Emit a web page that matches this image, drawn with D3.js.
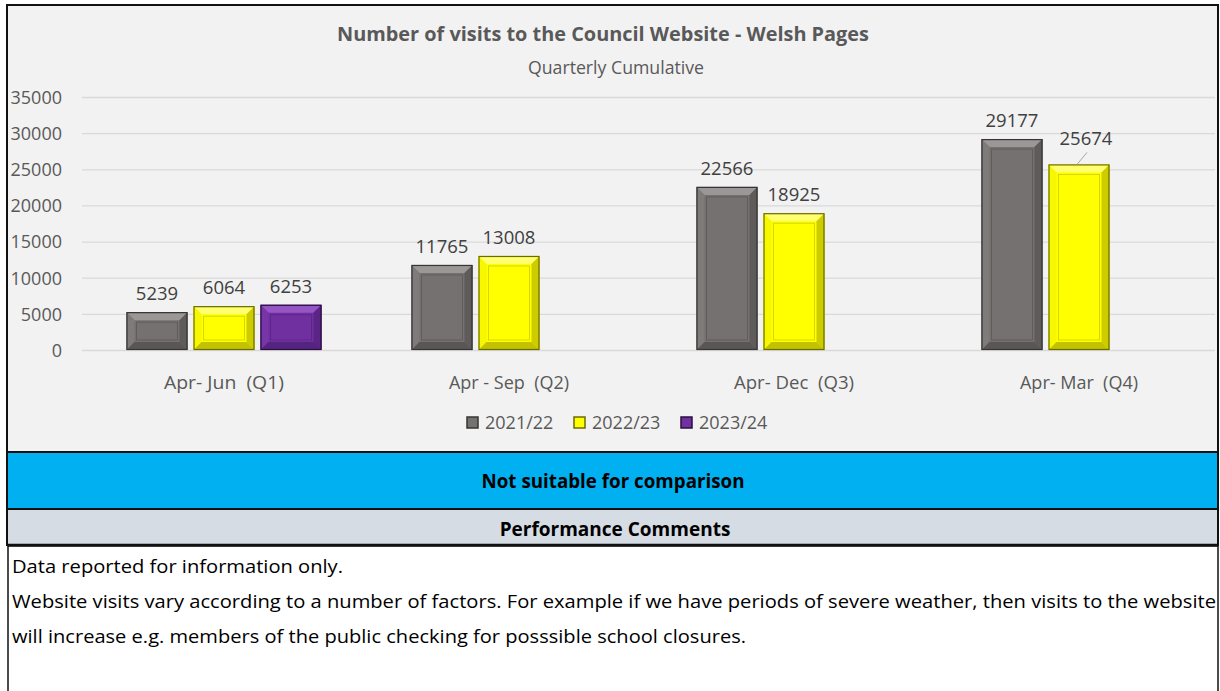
<!DOCTYPE html>
<html><head><meta charset="utf-8">
<script src="https://cdn.jsdelivr.net/npm/d3@7"></script>
<style>body{margin:0;background:#fff;}svg{display:block;font-family:"Open Sans",sans-serif;}</style>
</head><body>
<script>
const categories = ["Apr- Jun  (Q1)", "Apr - Sep  (Q2)", "Apr- Dec  (Q3)", "Apr- Mar  (Q4)"];
const seriesNames = ["2021/22", "2022/23", "2023/24"];
const values2122 = [5239, 11765, 22566, 29177];
const values2223 = [6064, 13008, 18925, 25674];
const values2324 = [6253, null, null, null];
const yTicks = [0, 5000, 10000, 15000, 20000, 25000, 30000, 35000];
const titleText = "Number of visits to the Council Website - Welsh Pages";
const subtitleText = "Quarterly Cumulative";
const bannerText = "Not suitable for comparison";
const commentsHeader = "Performance Comments";
const commentLines = [
  "Data reported for information only.",
  "Website visits vary according to a number of factors. For example if we have periods of severe weather, then visits to the website",
  "will increase e.g. members of the public checking for posssible school closures."
];

const W = 1220, H = 691;
const svg = d3.select("body").append("svg").attr("width", W).attr("height", H);

const colors = {
  "2021/22": {base:"#767171", top:"#9b9797", left:"#7f7b7b", right:"#5f5b5b", bottom:"#5a5656", edge:"#363434", inner:"#615d5d"},
  "2022/23": {base:"#ffff00", top:"#ffff70", left:"#f7f700", right:"#cccc00", bottom:"#c2c200", edge:"#6b6b00", inner:"#d6d600"},
  "2023/24": {base:"#7030a0", top:"#9556c4", left:"#7735a8", right:"#5a2584", bottom:"#552380", edge:"#2a0f40", inner:"#5c2688"}
};

function fit(sel, w) {
  sel.each(function(){
    const l = this.getComputedTextLength();
    if (Math.abs(l - w) > 2) d3.select(this).attr("textLength", w).attr("lengthAdjust", "spacingAndGlyphs");
  });
}

// panels
svg.append("rect").attr("x",7).attr("y",5).attr("width",1211).attr("height",447).attr("fill","#f2f2f2").attr("stroke","#111").attr("stroke-width",2);
svg.append("rect").attr("x",7).attr("y",452).attr("width",1211).attr("height",57).attr("fill","#00b0f0").attr("stroke","#111").attr("stroke-width",2);
svg.append("rect").attr("x",7).attr("y",509).attr("width",1211).attr("height",36).attr("fill","#d6dce4").attr("stroke","#111").attr("stroke-width",2);
svg.append("rect").attr("x",8).attr("y",546).attr("width",1210).attr("height",150).attr("fill","#fff").attr("stroke","#111").attr("stroke-width",1.5);
svg.append("line").attr("x1",7).attr("x2",1218).attr("y1",545).attr("y2",545).attr("stroke","#111").attr("stroke-width",2.5);

// titles
svg.append("text").attr("x",603).attr("y",41).attr("text-anchor","middle").attr("font-weight","bold").attr("font-size",19).attr("fill","#595959").text(titleText).call(fit,532);
svg.append("text").attr("x",616).attr("y",74).attr("text-anchor","middle").attr("font-size",18).attr("fill","#595959").text(subtitleText).call(fit,176);

// scales
const y = d3.scaleLinear().domain([0,35000]).range([350,97]);
const x0 = d3.scaleBand().domain(categories).range([81.5,1221.5]).padding(0);
const x1 = d3.scaleBand().domain(seriesNames).range([45,240]).paddingInner(0.09);

// y axis + gridlines
const yAxis = d3.axisLeft(y).tickValues(yTicks).tickSize(0).tickPadding(0).tickFormat(d3.format("d"));
const gy = svg.append("g").attr("transform","translate(62,0)").call(yAxis);
gy.select(".domain").remove();
gy.selectAll("text").attr("font-size",18).attr("fill","#595959").attr("font-family","Open Sans, sans-serif").attr("dy","0.35em");
svg.append("g").selectAll("line").data(yTicks).join("line")
  .attr("x1",82).attr("x2",1215).attr("y1",d=>y(d)+0.5).attr("y2",d=>y(d)+0.5)
  .attr("stroke","#d9d9d9").attr("stroke-width",1.3);

// x axis labels
const xAxis = d3.axisBottom(x0).tickSize(0).tickPadding(0);
const gx = svg.append("g").attr("transform","translate(0,375)").call(xAxis);
gx.select(".domain").remove();
gx.selectAll("text").attr("font-size",18).attr("fill","#595959").attr("font-family","Open Sans, sans-serif").attr("dy","0.75em").attr("xml:space","preserve").style("white-space","pre").call(fit,120);

// data rows
const rows = [];
categories.forEach((c,i)=>{
  [values2122, values2223, values2324].forEach((arr,j)=>{
    if (arr[i] != null) rows.push({cat:c, series:seriesNames[j], value:arr[i]});
  });
});

const bars = svg.append("g").selectAll("g").data(rows).join("g");
bars.each(function(d){
  const g = d3.select(this);
  const c = colors[d.series];
  const bx = x0(d.cat) + x1(d.series), bw = x1.bandwidth();
  const by = y(d.value), bh = y(0) - y(d.value);
  const b = Math.min(8, bh/4);
  g.append("rect").attr("x",bx).attr("y",by).attr("width",bw).attr("height",bh).attr("fill",c.base);
  const pts = (a)=>a.map(p=>p.join(",")).join(" ");
  g.append("polygon").attr("points",pts([[bx,by],[bx+bw,by],[bx+bw-b,by+b],[bx+b,by+b]])).attr("fill",c.top);
  g.append("polygon").attr("points",pts([[bx,by],[bx+b,by+b],[bx+b,by+bh-b],[bx,by+bh]])).attr("fill",c.left);
  g.append("polygon").attr("points",pts([[bx+bw,by],[bx+bw,by+bh],[bx+bw-b,by+bh-b],[bx+bw-b,by+b]])).attr("fill",c.right);
  g.append("polygon").attr("points",pts([[bx,by+bh],[bx+b,by+bh-b],[bx+bw-b,by+bh-b],[bx+bw,by+bh]])).attr("fill",c.bottom);
  g.append("line").attr("x1",bx+4).attr("x2",bx+bw-4).attr("y1",by+3).attr("y2",by+3).attr("stroke",c.top).attr("stroke-width",2).attr("opacity",0.9);
  g.append("rect").attr("x",bx+b+2).attr("y",by+b+2).attr("width",bw-2*b-4).attr("height",Math.max(0,bh-2*b-4)).attr("fill","none").attr("stroke",c.inner).attr("stroke-width",1);
  g.append("rect").attr("x",bx+0.5).attr("y",by+0.5).attr("width",bw-1).attr("height",bh-1).attr("fill","none").attr("stroke",c.edge).attr("stroke-width",1.2);
  // label
  const raised = (d.series==="2022/23" && d.cat===categories[3]);
  const ly = by - 12 - (raised ? 7 : 0);
  const lx = bx + bw/2 + (raised ? 7 : 0);
  if (raised) {
    g.append("line").attr("x1",bx+bw/2-2).attr("y1",by).attr("x2",bx+bw/2+8).attr("y2",by-12).attr("stroke","#a6a6a6").attr("stroke-width",1);
  }
  g.append("text").attr("x",lx).attr("y",ly).attr("text-anchor","middle").attr("font-size",18.5).attr("fill","#404040").text(d.value);
});

// legend
const legendX = [467, 574, 681];
const lg = svg.append("g").selectAll("g").data(seriesNames).join("g")
  .attr("transform",(d,i)=>`translate(${legendX[i]},417)`);
lg.append("rect").attr("width",11).attr("height",11).attr("fill",d=>colors[d].base).attr("stroke",d=>colors[d].edge).attr("stroke-width",1.5);
lg.append("text").attr("x",18).attr("y",12).attr("font-size",18).attr("fill","#595959").text(d=>d);

// banners
svg.append("text").attr("x",613).attr("y",488).attr("text-anchor","middle").attr("font-weight","bold").attr("font-size",19).attr("fill","#000").text(bannerText).call(fit,263);
svg.append("text").attr("x",615).attr("y",536).attr("text-anchor","middle").attr("font-weight","bold").attr("font-size",19).attr("fill","#000").text(commentsHeader).call(fit,231);

// comments
const commentWidths = [331, 1204, 734];
svg.append("g").selectAll("text").data(commentLines).join("text")
  .attr("x",12).attr("y",(d,i)=>573+i*35).attr("font-size",18).attr("fill","#000").text(d=>d)
  .each(function(d,i){ d3.select(this).call(fit, commentWidths[i]); });
</script>
</body></html>
